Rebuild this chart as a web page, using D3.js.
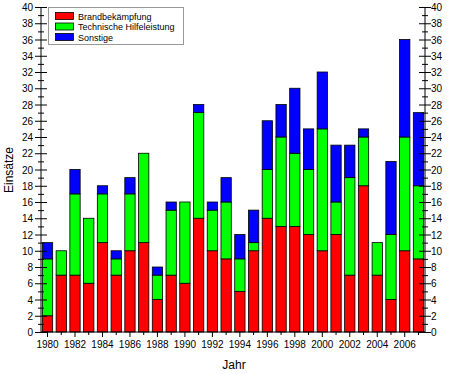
<!DOCTYPE html>
<html><head><meta charset="utf-8">
<script src="https://cdn.jsdelivr.net/npm/d3@7"></script>
<style>body{margin:0;background:#fff}svg{display:block}text{font-family:"Liberation Sans",Arial,sans-serif}</style>
</head><body><svg id="c" width="450" height="374"></svg>
<script>
const years = d3.range(1980, 2008);
const brand = [2,7,7,6,11,7,10,11,4,7,6,14,10,9,5,10,14,13,13,12,10,12,7,18,7,4,10,9];
const technik = [7,3,10,8,6,2,7,11,3,8,10,13,5,7,4,1,6,11,9,8,15,4,12,6,4,8,14,9];
const sonstige = [2,0,3,0,1,1,2,0,1,1,0,1,1,3,3,4,6,4,8,5,7,7,4,1,0,9,12,9];
const seriesNames = ["Brandbekämpfung","Technische Hilfeleistung","Sonstige"];
const colors = ["#ff0000","#00ff00","#0000ff"];
const yTicks = d3.range(0, 41, 2);
const xLabels = d3.range(1980, 2007, 2);

const svg = d3.select("#c");
const L = 41, R = 425, T = 7, B = 332;
const x = d3.scaleBand().domain(years).range([L, R]).paddingInner(0.25).paddingOuter(0.1);
const y = d3.scaleLinear().domain([0, 40]).range([B, T]);

const rows = years.map((yr, i) => ({year: yr, b: brand[i], t: technik[i], s: sonstige[i]}));
const stack = d3.stack().keys(["b","t","s"])(rows);

svg.append("g").selectAll("g").data(stack).join("g")
  .attr("fill", (d, i) => colors[i])
  .selectAll("rect").data(d => d.filter(p => p[1] > p[0])).join("rect")
  .attr("x", d => x(d.data.year))
  .attr("width", x.bandwidth())
  .attr("y", d => y(d[1]))
  .attr("height", d => y(d[0]) - y(d[1]))
  .attr("stroke", "#000").attr("stroke-width", 0.8);

const ax = svg.append("g").attr("stroke", "#000").attr("stroke-width", 1);
ax.append("line").attr("x1", L).attr("x2", L).attr("y1", y(0)).attr("y2", y(40));
ax.append("line").attr("x1", R).attr("x2", R).attr("y1", y(0)).attr("y2", y(40));
ax.append("line").attr("x1", L).attr("x2", R).attr("y1", y(0)).attr("y2", y(0));

const minor = d3.range(0, 41, 1);
[L, R].forEach(X => {
  ax.selectAll(null).data(minor).join("line")
    .attr("x1", d => X - (d % 2 === 0 ? 6 : 3)).attr("x2", d => X + (d % 2 === 0 ? 6 : 3))
    .attr("y1", d => y(d) + 0.5).attr("y2", d => y(d) + 0.5);
});
ax.selectAll(null).data(years).join("line")
  .attr("x1", d => x(d) + x.bandwidth()/2).attr("x2", d => x(d) + x.bandwidth()/2)
  .attr("y1", y(0)).attr("y2", d => y(0) + (d % 2 === 0 ? 5 : 3));

const lab = svg.append("g").attr("font-size", 10).attr("fill", "#000");
lab.selectAll(null).data(yTicks).join("text")
  .attr("x", L - 8).attr("y", d => y(d) + 4).attr("text-anchor", "end").text(d => d);
lab.selectAll(null).data(yTicks).join("text")
  .attr("x", R + 6).attr("y", d => y(d) + 4).attr("text-anchor", "start").text(d => d);
lab.selectAll(null).data(xLabels).join("text")
  .attr("x", d => x(d) + x.bandwidth()/2).attr("y", 348).attr("text-anchor", "middle").text(d => d);

svg.append("text").attr("x", 234).attr("y", 369).attr("text-anchor", "middle").attr("font-size", 12).text("Jahr");
svg.append("text").attr("transform", "translate(13,170) rotate(-90)").attr("text-anchor", "middle").attr("font-size", 12).text("Einsätze");

const lg = svg.append("g");
lg.append("rect").attr("x", 48.5).attr("y", 7.5).attr("width", 135).attr("height", 37)
  .attr("fill", "#fff").attr("stroke", "#999").attr("stroke-width", 1);
seriesNames.forEach((n, i) => {
  lg.append("rect").attr("x", 55.5).attr("y", 12.5 + i*10.5).attr("width", 18).attr("height", 7)
    .attr("fill", colors[i]).attr("stroke", "#000").attr("stroke-width", 0.8);
  lg.append("text").attr("x", 78).attr("y", 19.5 + i*10.5).attr("font-size", 9).text(n);
});
</script></body></html>
